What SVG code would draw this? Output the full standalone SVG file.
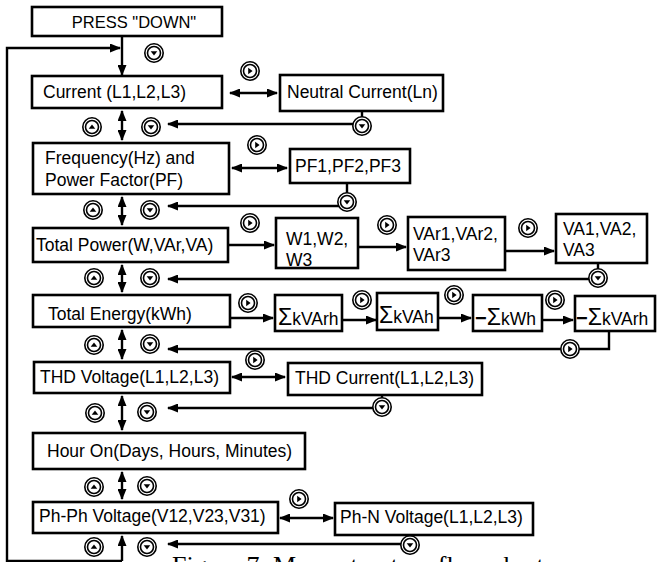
<svg xmlns="http://www.w3.org/2000/svg" width="657" height="562" viewBox="0 0 657 562">
<style>
.box{fill:#fff;stroke:#000;stroke-width:2.6}
.t{font-family:"Liberation Sans",Arial,sans-serif;font-size:17.5px;fill:#000}
.ln{fill:none;stroke:#000;stroke-width:2.4}
.a{marker-end:url(#ah)}
.aa{marker-start:url(#ah);marker-end:url(#ah)}
.ring{fill:#fff;stroke:#000;stroke-width:1.6}
.sg{font-size:23px}
.mn{font-weight:bold;font-size:20px}
.cap{font-family:"Liberation Serif","Times New Roman",serif;font-size:26px;fill:#000}
</style>
<defs>
<marker id="ah" markerUnits="userSpaceOnUse" markerWidth="11" markerHeight="9" refX="10" refY="4.5" orient="auto-start-reverse">
<path d="M0,0 L11,4.5 L0,9 z" fill="#000"/>
</marker>
<g id="bd"><circle class="ring" r="9.2"/><circle class="ring" r="6.5"/><path d="M-3.3,-1.8 L3.3,-1.8 L0,2.6 z" fill="#000"/></g>
<g id="bu"><circle class="ring" r="9.2"/><circle class="ring" r="6.5"/><path d="M-3.3,1.8 L3.3,1.8 L0,-2.6 z" fill="#000"/></g>
<g id="br"><circle class="ring" r="9.2"/><circle class="ring" r="6.5"/><path d="M-1.8,-3.3 L-1.8,3.3 L2.6,0 z" fill="#000"/></g>
</defs>

<g id="connectors">
<path class="ln a" d="M122,36 V75"/>
<path class="ln a" d="M122,561 H7 V48 H120"/>
<path class="ln aa" d="M122,111 V140"/>
<path class="ln aa" d="M122,197 V225"/>
<path class="ln aa" d="M122,265 V292"/>
<path class="ln aa" d="M122,330 V359"/>
<path class="ln aa" d="M122,396 V430"/>
<path class="ln aa" d="M122,472 V499"/>
<path class="ln a" d="M122,561 V536"/>
<path class="ln aa" d="M230,93 H277"/>
<path class="ln aa" d="M232,168 H287"/>
<path class="ln a" d="M228,245 H274"/>
<path class="ln a" d="M358,247 H406"/>
<path class="ln a" d="M505,251 H554"/>
<path class="ln a" d="M230,318 H273"/>
<path class="ln a" d="M342,320 H376"/>
<path class="ln a" d="M438,318 H471"/>
<path class="ln a" d="M542,320 H573"/>
<path class="ln aa" d="M232,377 H285"/>
<path class="ln aa" d="M280,518 H333"/>
<path class="ln a" d="M362,111 V124 H168"/>
<path class="ln a" d="M347,183 V206 H168"/>
<path class="ln a" d="M598,263 V279 H168"/>
<path class="ln a" d="M609,331 V349 H168"/>
<path class="ln a" d="M382,395 V408 H168"/>
<path class="ln a" d="M410,535 V544 H168"/>
</g>

<g id="buttons">
<use href="#bd" x="154" y="53"/>
<use href="#br" x="250" y="71"/>
<use href="#bu" x="92" y="127"/>
<use href="#bd" x="151" y="127"/>
<use href="#bd" x="362" y="126"/>
<use href="#br" x="257" y="145"/>
<use href="#bd" x="347" y="202"/>
<use href="#bu" x="93" y="210"/>
<use href="#bd" x="150" y="210"/>
<use href="#br" x="250" y="223"/>
<use href="#br" x="387" y="225"/>
<use href="#br" x="528" y="228"/>
<use href="#bd" x="598" y="278"/>
<use href="#bu" x="94" y="278"/>
<use href="#bd" x="150" y="278"/>
<use href="#br" x="248" y="303"/>
<use href="#br" x="362" y="300"/>
<use href="#br" x="454" y="295"/>
<use href="#br" x="555" y="300"/>
<use href="#br" x="570" y="349"/>
<use href="#bu" x="94" y="345"/>
<use href="#bd" x="150" y="344"/>
<use href="#br" x="255" y="360"/>
<use href="#bd" x="382" y="407"/>
<use href="#bu" x="95" y="413"/>
<use href="#bd" x="147" y="412"/>
<use href="#bu" x="94" y="487"/>
<use href="#bd" x="147" y="486"/>
<use href="#br" x="299" y="499"/>
<use href="#bd" x="410" y="545"/>
<use href="#bu" x="94" y="547"/>
<use href="#bd" x="147" y="547"/>
</g>

<g id="press"><rect class="box" x="32" y="7" width="190" height="29"/><text class="t" x="134" y="28" text-anchor="middle" style="font-size:16.5px">PRESS "DOWN"</text></g>
<g id="current"><rect class="box" x="32" y="76" width="190" height="32"/><text class="t" x="43" y="98">Current (L1,L2,L3)</text></g>
<g id="neutral"><rect class="box" x="280" y="75" width="163" height="36"/><text class="t" x="287" y="98">Neutral Current(Ln)</text></g>
<g id="freq"><rect class="box" x="33" y="143" width="196" height="51"/><text class="t" x="45" y="164">Frequency(Hz) and</text><text class="t" x="45" y="186">Power Factor(PF)</text></g>
<g id="pf"><rect class="box" x="290" y="149" width="120" height="34"/><text class="t" x="295" y="172">PF1,PF2,PF3</text></g>
<g id="power"><rect class="box" x="33" y="228" width="195" height="34"/><text class="t" x="36" y="251">Total Power(W,VAr,VA)</text></g>
<g id="w"><rect class="box" x="276" y="218" width="82" height="50"/><text class="t" x="286" y="245">W1,W2,</text><text class="t" x="286" y="266">W3</text></g>
<g id="var"><rect class="box" x="408" y="217" width="97" height="53"/><text class="t" x="413" y="240">VAr1,VAr2,</text><text class="t" x="413" y="261">VAr3</text></g>
<g id="va"><rect class="box" x="556" y="214" width="91" height="49"/><text class="t" x="563" y="235">VA1,VA2,</text><text class="t" x="563" y="256">VA3</text></g>
<g id="energy"><rect class="box" x="33" y="295" width="197" height="32"/><text class="t" x="48" y="320">Total Energy(kWh)</text></g>
<g id="skvarh"><rect class="box" x="275" y="295" width="67" height="36"/><text class="t" x="278" y="325"><tspan class="sg">Σ</tspan>kVArh</text></g>
<g id="skvah"><rect class="box" x="377" y="293" width="61" height="37"/><text class="t" x="379" y="323"><tspan class="sg">Σ</tspan>kVAh</text></g>
<g id="nskwh"><rect class="box" x="473" y="295" width="69" height="36"/><text class="t" x="475" y="325"><tspan class="mn">−</tspan><tspan class="sg">Σ</tspan>kWh</text></g>
<g id="nskvarh"><rect class="box" x="575" y="296" width="80" height="35"/><text class="t" x="576" y="325"><tspan class="mn">−</tspan><tspan class="sg">Σ</tspan>kVArh</text></g>
<g id="thdv"><rect class="box" x="34" y="362" width="196" height="31"/><text class="t" x="40" y="383">THD Voltage(L1,L2,L3)</text></g>
<g id="thdc"><rect class="box" x="288" y="363" width="194" height="32"/><text class="t" x="295" y="384">THD Current(L1,L2,L3)</text></g>
<g id="hour"><rect class="box" x="33" y="433" width="272" height="36"/><text class="t" x="47" y="457">Hour On(Days, Hours, Minutes)</text></g>
<g id="phph"><rect class="box" x="33" y="502" width="245" height="31"/><text class="t" x="39" y="522">Ph-Ph Voltage(V12,V23,V31)</text></g>
<g id="phn"><rect class="box" x="335" y="503" width="198" height="32"/><text class="t" x="340" y="523">Ph-N Voltage(L1,L2,L3)</text></g>

<text class="cap" x="172" y="574">Figure 7: Menu structure flow chart</text>
</svg>
